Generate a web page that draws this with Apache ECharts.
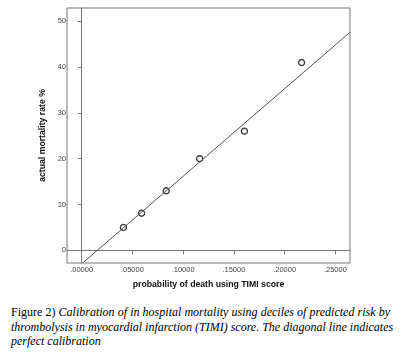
<!DOCTYPE html>
<html>
<head>
<meta charset="utf-8">
<script src="https://cdn.jsdelivr.net/npm/echarts@6/dist/echarts.min.js"></script>
<style>
  html, body { margin: 0; padding: 0; background: #fff; }
  #wrap { position: relative; width: 405px; height: 357px; overflow: hidden; }
  #chart { position: absolute; left: 0; top: 0; width: 405px; height: 300px; }
  #caption { position: absolute; left: 11px; top: 305px; width: 379px;
    font-family: "Liberation Serif", "DejaVu Serif", serif; font-size: 12px; line-height: 14.5px; color: #000; }
  #caption .l { display: block; text-align: justify; text-align-last: justify; white-space: nowrap; }
  #caption .l.last { text-align-last: left; }
  #caption i { font-style: italic; }
</style>
</head>
<body>
<div id="wrap">
  <div id="chart"></div>
  <div id="caption">
    <span class="l">Figure 2) <i>Calibration of in hospital mortality using deciles of predicted risk by</i></span>
    <span class="l"><i>thrombolysis in myocardial infarction (TIMI) score. The diagonal line indicates</i></span>
    <span class="l last"><i>perfect calibration</i></span>
  </div>
</div>
<script>
// Data
const predicted = [0.0412, 0.0591, 0.0833, 0.1163, 0.1604, 0.2167];
const actual = [5.0, 8.1, 13.0, 20.0, 26.0, 41.0];
const lineX = [0.001, 0.2644];
const lineY = [-2.77, 47.6];
const xTicks = [0, 0.05, 0.10, 0.15, 0.20, 0.25];
const yTicks = [0, 10, 20, 30, 40, 50];
const xName = 'probability of death using TIMI score';
const yName = 'actual mortality rate %';

const chart = echarts.init(document.getElementById('chart'), null, { renderer: 'canvas' });
const axisGray = '#777';
const labelStyle = { color: '#444', fontSize: 7.5, fontFamily: 'Liberation Sans, Arial, sans-serif' };
chart.setOption({
  animation: false,
  grid: { left: 67, right: 55, top: 8, bottom: 37, show: true, borderColor: axisGray, borderWidth: 1, backgroundColor: '#fff' },
  xAxis: {
    type: 'value', min: -0.0144, max: 0.2644,
    splitLine: { show: false },
    axisLine: { show: true, lineStyle: { color: axisGray, width: 1 } },
    axisTick: { show: true, length: 4, customValues: xTicks, lineStyle: { color: axisGray } },
    axisLabel: Object.assign({ customValues: xTicks, margin: 3, formatter: v => '.' + v.toFixed(5).split('.')[1] }, labelStyle),
    name: xName, nameLocation: 'middle', nameGap: 17,
    nameTextStyle: { fontSize: 8.7, fontWeight: 'bold', color: '#111', fontFamily: 'Liberation Sans, Arial, sans-serif' }
  },
  yAxis: {
    type: 'value', min: -2.77, max: 52.9,
    splitLine: { show: false },
    axisLine: { show: true, lineStyle: { color: axisGray, width: 1 } },
    axisTick: { show: true, length: 4, customValues: yTicks, lineStyle: { color: axisGray } },
    axisLabel: Object.assign({ customValues: yTicks, margin: 1 }, labelStyle),
    name: yName, nameLocation: 'middle', nameGap: 17, nameRotate: 90,
    nameTextStyle: { fontSize: 8.7, fontWeight: 'bold', color: '#111', fontFamily: 'Liberation Sans, Arial, sans-serif' }
  },
  series: [
    {
      type: 'line', data: lineX.map((x, i) => [x, lineY[i]]),
      symbol: 'none', clip: true, silent: true,
      lineStyle: { color: '#555', width: 1 }
    },
    {
      type: 'scatter', data: predicted.map((x, i) => [x, actual[i]]),
      symbol: 'circle', symbolSize: 6,
      itemStyle: { color: 'rgba(255,255,255,0)', borderColor: '#111', borderWidth: 1.4 }
    }
  ]
});
</script>
</body>
</html>
